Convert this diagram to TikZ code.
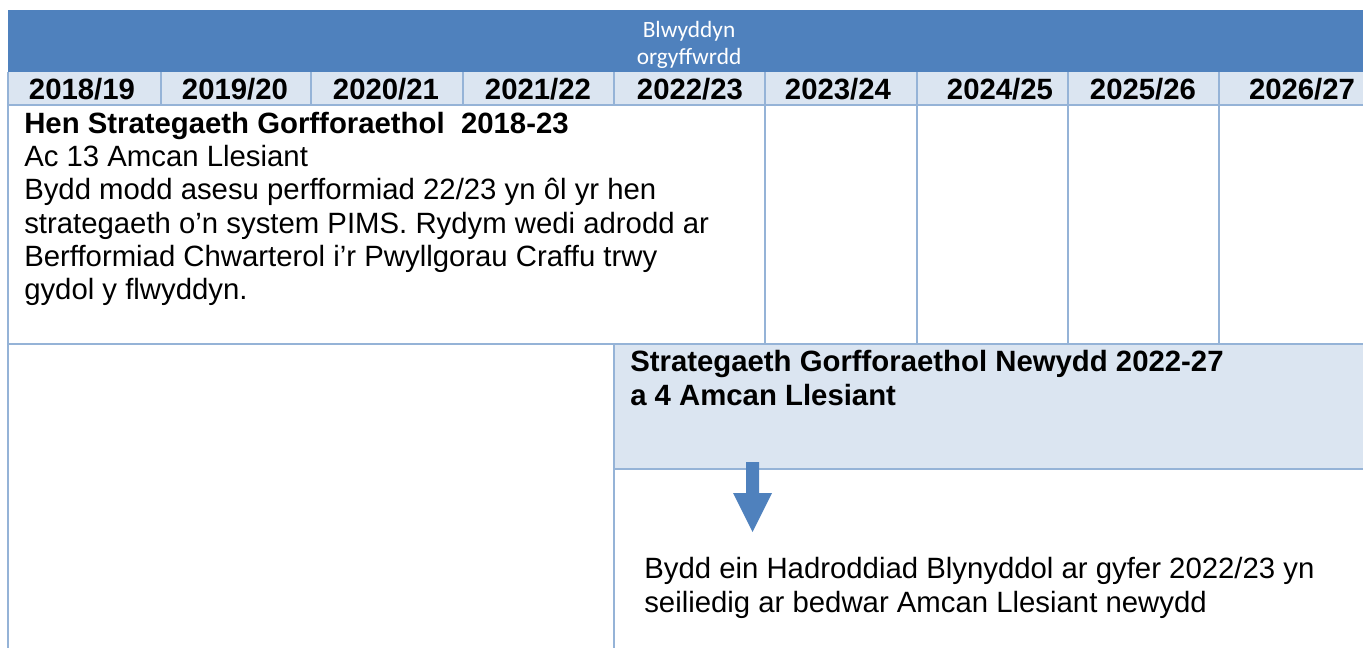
\documentclass[tikz,border=0pt]{standalone}
\usepackage{fontspec}
\setmainfont{Liberation Sans}
\newfontfamily\bandfont{Carlito}

\definecolor{bandblue}{HTML}{4F81BD}
\definecolor{paleblue}{HTML}{DBE5F1}
\definecolor{cellblue}{HTML}{95B3D7}

\begin{document}
\begin{tikzpicture}[x = 0.75pt, y = -0.75pt,
		cellline/.style = {draw = cellblue, line width = 1.3pt},
		yearlabel/.style = {anchor = base, inner sep = 0pt, font = \fontsize{22}{25}\selectfont\bfseries},
		bodytext/.style = {anchor = base west, align = left, inner sep = 0pt, font = \fontsize{22}{25}\selectfont}]

		\useasboundingbox (0, 0) rectangle (1363, 648);

		\fill[bandblue] (8, 10) rectangle (1363, 72);
		\fill[paleblue] (8, 72) rectangle (1363, 105);
		\fill[paleblue] (614, 344) rectangle (1363, 469);

		\draw[cellline] (8, 72) -- (8, 648);
		\draw[cellline] (8, 105) -- (1363, 105);
		\draw[cellline] (8, 344) -- (1363, 344);
		\draw[cellline] (614, 344) -- (614, 648);
		\draw[cellline] (614, 469) -- (1363, 469);
		\draw[cellline] (161, 72) -- (161, 105);
		\draw[cellline] (311, 72) -- (311, 105);
		\draw[cellline] (463, 72) -- (463, 105);
		\draw[cellline] (614, 72) -- (614, 105);
		\draw[cellline] (765, 72) -- (765, 344);
		\draw[cellline] (917, 72) -- (917, 344);
		\draw[cellline] (1068, 72) -- (1068, 344);
		\draw[cellline] (1219, 72) -- (1219, 344);

		\node[align = center, text = white, inner sep = 0pt, font = \bandfont\fontsize{17.5}{20}\selectfont] (overlap) at (689, 45) {Blwyddyn\\orgyffwrdd};

		\node[yearlabel] (y1819) at (82, 100) {2018/19};
		\node[yearlabel] (y1920) at (235, 100) {2019/20};
		\node[yearlabel] (y2021) at (386, 100) {2020/21};
		\node[yearlabel] (y2122) at (538, 100) {2021/22};
		\node[yearlabel] (y2223) at (690, 100) {2022/23};
		\node[yearlabel] (y2324) at (838, 100) {2023/24};
		\node[yearlabel] (y2425) at (1000, 100) {2024/25};
		\node[yearlabel] (y2526) at (1143, 100) {2025/26};
		\node[yearlabel] (y2627) at (1302, 100) {2026/27};

		\node[bodytext] (oldplan) at (24, 300) {\textbf{Hen Strategaeth Gorfforaethol\ \ 2018-23}\\Ac 13 Amcan Llesiant\\Bydd modd asesu perfformiad 22/23 yn ôl yr hen\\strategaeth o’n system PIMS. Rydym wedi adrodd ar\\Berfformiad Chwarterol i’r Pwyllgorau Craffu trwy\\gydol y flwyddyn.};

		\node[bodytext, font = \fontsize{22}{25}\selectfont\bfseries] (newplan) at (630, 405) {Strategaeth Gorfforaethol Newydd 2022-27\\a 4 Amcan Llesiant};

		\fill[bandblue] (746, 462) -- (759, 462) -- (759, 493) -- (772, 493) -- (752.5, 532) -- (733, 493) -- (746, 493) -- cycle;

		\node[bodytext] (report) at (644, 612) {Bydd ein Hadroddiad Blynyddol ar gyfer 2022/23 yn\\seiliedig ar bedwar Amcan Llesiant newydd};

	\end{tikzpicture}
\end{document}
